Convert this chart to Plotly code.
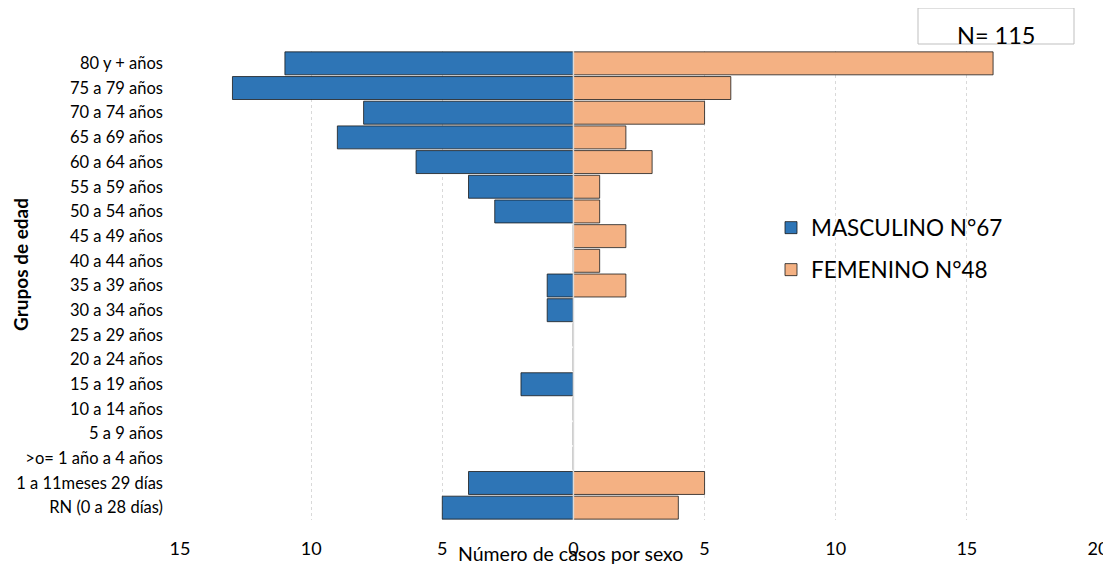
import plotly.graph_objects as go

categories = ["80 y + años", "75 a 79 años", "70 a 74 años", "65 a 69 años", "60 a 64 años",
              "55 a 59 años", "50 a 54 años", "45 a 49 años", "40 a 44 años", "35 a 39 años",
              "30 a 34 años", "25 a 29 años", "20 a 24 años", "15 a 19 años", "10 a 14 años",
              "5 a 9 años", ">o= 1 año a 4 años", "1 a 11meses 29 días", "RN (0 a 28 días)"]
masculino = [11, 13, 8, 9, 6, 4, 3, 0, 0, 1, 1, 0, 0, 2, 0, 0, 0, 4, 5]
femenino = [16, 6, 5, 2, 3, 1, 1, 2, 1, 2, 0, 0, 0, 0, 0, 0, 0, 5, 4]
tick_vals = [-15, -10, -5, 0, 5, 10, 15, 20]
tick_text = ["15", "10", "5", "0", "5", "10", "15", "20"]

W, H = 1111, 565
O = 8  # page body margin offset
# plot area in screen pixels: x 180..1098, y 51..520
L = 180 - O
T = 51 - O
R = W - (1098 - O)
B = H - (520 - O)
pw, ph = W - L - R, H - T - B

def px(x):
    return (x - O - L) / pw

def py(y):
    return (H - B - (y - O)) / ph

FONT = "Lato"

fig = go.Figure()
fig.add_trace(go.Bar(
    y=categories, x=[-v for v in masculino], orientation="h", name="MASCULINO N°67",
    marker=dict(color="#2E75B6", line=dict(color="#1a1a1a", width=0.8)),
    legend="legend"))
fig.add_trace(go.Bar(
    y=categories, x=femenino, orientation="h", name="FEMENINO N°48",
    marker=dict(color="#F4B183", line=dict(color="#1a1a1a", width=0.8)),
    legend="legend2"))

fig.update_layout(
    width=W, height=H, margin=dict(l=L, r=R, t=T, b=B),
    paper_bgcolor="white", plot_bgcolor="white",
    barmode="relative", bargap=0.07,
    font=dict(family=FONT, color="#000000"),
    xaxis=dict(range=[-15, 20], tickvals=tick_vals, ticktext=tick_text,
               showgrid=True, gridcolor="#D9D9D9", griddash="3px,3px", gridwidth=1.2,
               zeroline=False, showline=False, ticks="", automargin=False,
               tickfont=dict(size=18, family=FONT), ticklabelstandoff=16),
    yaxis=dict(categoryorder="array", categoryarray=categories[::-1],
               showgrid=False, zeroline=False, showline=False, ticks="", automargin=False,
               tickfont=dict(size=16.5, family=FONT), ticklabelstandoff=16,
               range=[-0.5, 18.5]),
    legend=dict(x=px(771), y=py(228), xanchor="left", yanchor="middle",
                font=dict(size=22.5, family=FONT), bgcolor="rgba(0,0,0,0)"),
    legend2=dict(x=px(771), y=py(270), xanchor="left", yanchor="middle",
                 font=dict(size=22.5, family=FONT), bgcolor="rgba(0,0,0,0)"),
    showlegend=True,
)

# zero line over the bars
fig.add_shape(type="line", xref="x", yref="paper", x0=0, x1=0, y0=0, y1=1,
              line=dict(color="#D9D9D9", width=1.5), layer="above")

# N box
fig.add_shape(type="rect", xref="paper", yref="paper",
              x0=px(918), x1=px(1074), y0=py(44), y1=py(8),
              line=dict(color="#BFBFBF", width=1), fillcolor="rgba(0,0,0,0)")
fig.add_annotation(xref="paper", yref="paper", x=px(996), y=py(35), text="N= 115",
                   showarrow=False, font=dict(size=23.5, family=FONT), xanchor="center", yanchor="middle")

# axis titles
fig.add_annotation(xref="paper", yref="paper", x=px(570), y=py(553), text="Número de casos por sexo",
                   showarrow=False, font=dict(size=19.5, family=FONT), xanchor="center", yanchor="middle")
fig.add_annotation(xref="paper", yref="paper", x=px(20), y=py(265), text="<b>Grupos de edad</b>",
                   textangle=-90, showarrow=False, font=dict(size=19, family=FONT),
                   xanchor="center", yanchor="middle")

fig.write_html("out.html")
